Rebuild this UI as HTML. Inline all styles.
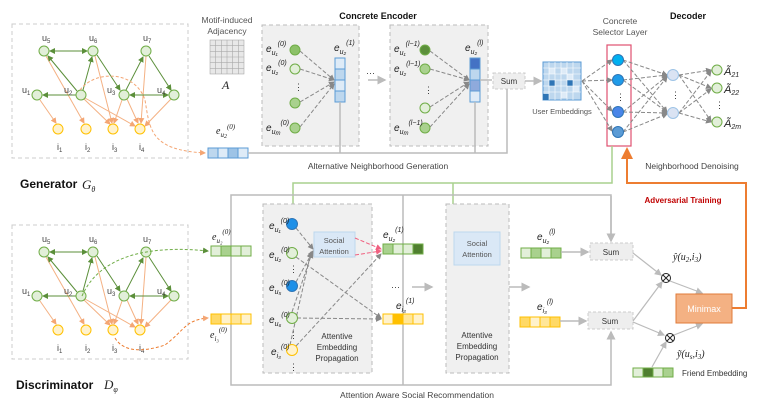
<!DOCTYPE html>
<html><head><meta charset="utf-8"><style>
html,body{margin:0;padding:0;background:#fff;width:772px;height:403px;overflow:hidden}
svg{display:block}
text{font-family:"Liberation Sans",sans-serif}
.s{font-size:9px;fill:#444}
.m{font-family:"Liberation Serif",serif;font-style:italic;fill:#222}
</style></head><body>
<svg width="772" height="403" viewBox="0 0 772 403" xmlns="http://www.w3.org/2000/svg">
<defs>
<marker id="ag" markerWidth="6" markerHeight="6" refX="5" refY="3" orient="auto"><path d="M0,0L6,3L0,6z" fill="#888"/></marker>
<marker id="agl" markerWidth="6" markerHeight="6" refX="5" refY="3" orient="auto"><path d="M0,0L6,3L0,6z" fill="#bbb"/></marker>
<marker id="agr" markerWidth="6" markerHeight="6" refX="5" refY="3" orient="auto"><path d="M0,0L6,3L0,6z" fill="#5b8f3a"/></marker>
<marker id="agrs" markerWidth="6" markerHeight="6" refX="1" refY="3" orient="auto"><path d="M6,0L0,3L6,6z" fill="#5b8f3a"/></marker>
<marker id="ao" markerWidth="6" markerHeight="6" refX="5" refY="3" orient="auto"><path d="M0,0L6,3L0,6z" fill="#f4a674"/></marker>
<marker id="ao2" markerWidth="6" markerHeight="6" refX="5" refY="3" orient="auto"><path d="M0,0L6,3L0,6z" fill="#ed7d31"/></marker>
<marker id="alg" markerWidth="6" markerHeight="6" refX="5" refY="3" orient="auto"><path d="M0,0L6,3L0,6z" fill="#8cc168"/></marker>
<marker id="ap" markerWidth="6" markerHeight="6" refX="5" refY="3" orient="auto"><path d="M0,0L6,3L0,6z" fill="#f06080"/></marker>
<g id="graph">
<rect x="12" y="24" width="176" height="134" fill="none" stroke="#ccc" stroke-dasharray="4,3"/>
<g stroke="#f4b183" stroke-width="1" marker-end="url(#ao)" fill="none">
<line x1="40" y1="100" x2="56" y2="123"/>
<line x1="46" y1="56" x2="84" y2="123"/>
<line x1="95" y1="56" x2="112" y2="123"/>
<line x1="84" y1="99" x2="110" y2="124"/>
<line x1="85" y1="98" x2="135" y2="126"/>
<line x1="122" y1="100" x2="114" y2="123"/>
<line x1="146" y1="56" x2="141" y2="123"/>
<line x1="127" y1="99" x2="138" y2="123"/>
<line x1="171" y1="99" x2="145" y2="126"/>
</g>
<g stroke="#5b8f3a" stroke-width="1" fill="none">
<line x1="50" y1="51" x2="87" y2="51" marker-end="url(#agr)" marker-start="url(#agrs)"/>
<line x1="77" y1="91" x2="48" y2="56" marker-end="url(#agr)"/>
<line x1="83" y1="90" x2="92" y2="57" marker-end="url(#agr)"/>
<line x1="97" y1="55" x2="120" y2="90" marker-end="url(#agr)"/>
<line x1="76" y1="95" x2="43" y2="95" marker-end="url(#agr)"/>
<line x1="126" y1="90" x2="143" y2="57" marker-end="url(#agr)"/>
<line x1="149" y1="56" x2="171" y2="90" marker-end="url(#agr)"/>
<line x1="130" y1="95" x2="168" y2="95" marker-end="url(#agr)" marker-start="url(#agrs)"/>
</g>
<g fill="#e2efd9" stroke="#70ad47">
<circle cx="44" cy="51" r="5"/><circle cx="93" cy="51" r="5"/><circle cx="146" cy="51" r="5"/>
<circle cx="37" cy="95" r="5"/><circle cx="81" cy="95" r="5"/><circle cx="124" cy="95" r="5"/><circle cx="174" cy="95" r="5"/>
</g>
<g fill="#fff2cc" stroke="#ffc000">
<circle cx="58" cy="129" r="5"/><circle cx="86" cy="129" r="5"/><circle cx="113" cy="129" r="5"/><circle cx="140" cy="129" r="5"/>
</g>
<g class="s" font-size="9">
<text x="42" y="41">u<tspan font-size="6" dy="2">5</tspan></text>
<text x="89" y="41">u<tspan font-size="6" dy="2">6</tspan></text>
<text x="143" y="41">u<tspan font-size="6" dy="2">7</tspan></text>
<text x="22" y="93">u<tspan font-size="6" dy="2">1</tspan></text>
<text x="64" y="93">u<tspan font-size="6" dy="2">2</tspan></text>
<text x="107" y="93">u<tspan font-size="6" dy="2">3</tspan></text>
<text x="157" y="93">u<tspan font-size="6" dy="2">4</tspan></text>
<text x="57" y="150">i<tspan font-size="6" dy="2">1</tspan></text>
<text x="85" y="150">i<tspan font-size="6" dy="2">2</tspan></text>
<text x="112" y="150">i<tspan font-size="6" dy="2">3</tspan></text>
<text x="139" y="150">i<tspan font-size="6" dy="2">4</tspan></text>
</g>
</g>
</defs>

<!-- Generator -->
<use href="#graph"/>
<path d="M80,90 C95,70 135,70 145,100 C150,130 150,150 205,153" fill="none" stroke="#f4a674" stroke-dasharray="3,2" marker-end="url(#ao)"/>
<text x="20" y="188" font-size="12" font-weight="bold" fill="#111">Generator</text>
<text x="82" y="189" font-size="13" class="m">G<tspan font-size="8" dy="3">θ</tspan></text>

<!-- Discriminator -->
<use href="#graph" y="201"/>
<path d="M82,296 C100,255 150,245 208,251" fill="none" stroke="#70ad47" stroke-dasharray="3,2" marker-end="url(#agr)"/>
<path d="M115,338 C125,355 150,350 165,345 C185,330 185,320 208,318" fill="none" stroke="#ed7d31" stroke-dasharray="3,2" marker-end="url(#ao)"/>
<text x="16" y="389" font-size="12" font-weight="bold" fill="#111">Discriminator</text>
<text x="104" y="389" font-size="13" class="m">D<tspan font-size="8" dy="3">φ</tspan></text>

<!-- generator embedding bar -->
<text x="216" y="134" font-size="10" class="m">e<tspan font-size="7" dy="3">u</tspan><tspan font-size="6" dy="1">2</tspan><tspan font-size="7" dy="-9">(0)</tspan></text>
<g stroke="#5b9bd5"><rect x="208" y="148" width="10" height="10" fill="#bdd7ee"/><rect x="218" y="148" width="10" height="10" fill="#deebf7"/><rect x="228" y="148" width="10" height="10" fill="#9dc3e6"/><rect x="238" y="148" width="10" height="10" fill="#deebf7"/></g>

<!-- Adjacency -->
<text x="227" y="23" font-size="8.5" fill="#555" text-anchor="middle">Motif-induced</text>
<text x="227" y="34" font-size="8.5" fill="#555" text-anchor="middle">Adjacency</text>
<rect x="210" y="40" width="34" height="34" fill="#e8e8e8" stroke="#999" stroke-width="0.5"/>
<g stroke="#aaa" stroke-width="0.6">
<line x1="215.7" y1="40" x2="215.7" y2="74"/><line x1="221.3" y1="40" x2="221.3" y2="74"/><line x1="227" y1="40" x2="227" y2="74"/><line x1="232.7" y1="40" x2="232.7" y2="74"/><line x1="238.3" y1="40" x2="238.3" y2="74"/>
<line x1="210" y1="45.7" x2="244" y2="45.7"/><line x1="210" y1="51.3" x2="244" y2="51.3"/><line x1="210" y1="57" x2="244" y2="57"/><line x1="210" y1="62.7" x2="244" y2="62.7"/><line x1="210" y1="68.3" x2="244" y2="68.3"/>
</g>
<text x="222" y="89" font-size="12" class="m">A</text>

<!-- Encoder -->
<text x="378" y="19" font-size="9" font-weight="bold" fill="#111" text-anchor="middle">Concrete Encoder</text>
<rect x="262" y="25" width="97" height="121" fill="#f0f0f0" stroke="#bbb" stroke-dasharray="4,3"/>
<rect x="390" y="25" width="98" height="121" fill="#f0f0f0" stroke="#bbb" stroke-dasharray="4,3"/>
<g stroke="#888" stroke-dasharray="4,2" marker-end="url(#ag)">
<line x1="300" y1="51" x2="334" y2="80"/><line x1="300" y1="69" x2="334" y2="80"/><line x1="300" y1="102" x2="334" y2="82"/><line x1="300" y1="127" x2="334" y2="84"/>
<line x1="430" y1="51" x2="469" y2="80"/><line x1="430" y1="69" x2="469" y2="80"/><line x1="430" y1="107" x2="469" y2="82"/><line x1="430" y1="127" x2="469" y2="84"/>
</g>
<g stroke="#70ad47"><circle cx="295" cy="50" r="5" fill="#8cc168"/><circle cx="295" cy="69" r="5" fill="#e2efd9"/><circle cx="295" cy="103" r="5" fill="#a9d18e"/><circle cx="295" cy="128" r="5" fill="#a9d18e"/>
<circle cx="425" cy="50" r="5" fill="#5b8f3a"/><circle cx="425" cy="69" r="5" fill="#a9d18e"/><circle cx="425" cy="108" r="5" fill="#e2efd9"/><circle cx="425" cy="128" r="5" fill="#a9d18e"/></g>
<text x="294" y="90" font-size="9" fill="#333">⋮</text><text x="424" y="93" font-size="9" fill="#333">⋮</text>
<g font-size="10" class="m">
<text x="266" y="52">e<tspan font-size="7" dy="3">u₁</tspan><tspan font-size="7" dy="-9">(0)</tspan></text>
<text x="266" y="71">e<tspan font-size="7" dy="3">u₂</tspan><tspan font-size="7" dy="-9">(0)</tspan></text>
<text x="266" y="131">e<tspan font-size="7" dy="3">u</tspan><tspan font-size="6" dy="1">m</tspan><tspan font-size="7" dy="-10">(0)</tspan></text>
<text x="334" y="51">e<tspan font-size="7" dy="3">u₂</tspan><tspan font-size="7" dy="-9">(1)</tspan></text>
<text x="394" y="52">e<tspan font-size="7" dy="3">u₁</tspan><tspan font-size="7" dy="-9">(l−1)</tspan></text>
<text x="394" y="72">e<tspan font-size="7" dy="3">u₂</tspan><tspan font-size="7" dy="-9">(l−1)</tspan></text>
<text x="394" y="131">e<tspan font-size="7" dy="3">u</tspan><tspan font-size="6" dy="1">m</tspan><tspan font-size="7" dy="-10">(l−1)</tspan></text>
<text x="465" y="51">e<tspan font-size="7" dy="3">u₂</tspan><tspan font-size="7" dy="-9">(l)</tspan></text>
</g>
<g stroke="#5b9bd5"><rect x="335" y="58" width="10" height="11" fill="#deebf7"/><rect x="335" y="69" width="10" height="11" fill="#bdd7ee"/><rect x="335" y="80" width="10" height="11" fill="#deebf7"/><rect x="335" y="91" width="10" height="11" fill="#bdd7ee"/>
<rect x="470" y="58" width="10" height="11" fill="#4472c4"/><rect x="470" y="69" width="10" height="11" fill="#bdd7ee"/><rect x="470" y="80" width="10" height="11" fill="#8faadc"/><rect x="470" y="91" width="10" height="11" fill="#deebf7"/></g>
<text x="366" y="76" font-size="9" fill="#333">···</text>
<line x1="368" y1="80" x2="385" y2="80" stroke="#bbb" stroke-width="1.5" marker-end="url(#agl)"/>
<line x1="480" y1="80" x2="492" y2="80" stroke="#bbb" stroke-width="1.5"/>
<rect x="493" y="73" width="32" height="16" fill="#eee" stroke="#ccc" stroke-dasharray="3,2"/>
<text x="509" y="84" font-size="8" fill="#333" text-anchor="middle">Sum</text>
<line x1="525" y1="81" x2="541" y2="81" stroke="#bbb" stroke-width="1.5" marker-end="url(#agl)"/>
<polyline points="248,153 507,153 507,89" fill="none" stroke="#bbb" stroke-width="1.5"/>
<line x1="340" y1="102" x2="340" y2="153" stroke="#bbb" stroke-width="1.5"/>
<line x1="475" y1="102" x2="475" y2="153" stroke="#bbb" stroke-width="1.5"/>
<text x="378" y="169" font-size="8.5" fill="#444" text-anchor="middle">Alternative Neighborhood Generation</text>

<!-- User embeddings grid -->
<rect x="543" y="62" width="38" height="38" fill="#bdd7ee" stroke="#5b9bd5"/>
<g fill="#deebf7"><rect x="549" y="68" width="6" height="6"/><rect x="561" y="68" width="6" height="6"/><rect x="567" y="74" width="6" height="6"/><rect x="549" y="80" width="6" height="6"/><rect x="573" y="86" width="6" height="6"/><rect x="561" y="92" width="6" height="6"/></g>
<g fill="#2e75b6"><rect x="549" y="80" width="6" height="6"/><rect x="567" y="80" width="6" height="6"/><rect x="543" y="94" width="6" height="6"/></g>
<g stroke="#fff" stroke-width="0.6"><line x1="549" y1="62" x2="549" y2="100"/><line x1="555" y1="62" x2="555" y2="100"/><line x1="561" y1="62" x2="561" y2="100"/><line x1="567" y1="62" x2="567" y2="100"/><line x1="573" y1="62" x2="573" y2="100"/><line x1="543" y1="68" x2="581" y2="68"/><line x1="543" y1="74" x2="581" y2="74"/><line x1="543" y1="80" x2="581" y2="80"/><line x1="543" y1="86" x2="581" y2="86"/><line x1="543" y1="92" x2="581" y2="92"/></g>
<text x="562" y="114" font-size="7.5" fill="#555" text-anchor="middle">User Embeddings</text>

<!-- Selector -->
<text x="620" y="24" font-size="8.5" fill="#555" text-anchor="middle">Concrete</text>
<text x="620" y="35" font-size="8.5" fill="#555" text-anchor="middle">Selector Layer</text>
<rect x="607" y="45" width="24" height="101" fill="#fff" stroke="#e05070" stroke-width="1.2"/>
<g stroke="#888" stroke-dasharray="4,2" marker-end="url(#ag)">
<line x1="582" y1="81" x2="612" y2="60"/><line x1="582" y1="81" x2="612" y2="80"/><line x1="582" y1="81" x2="612" y2="111"/><line x1="582" y1="81" x2="612" y2="131"/>
<line x1="623" y1="60" x2="667" y2="75"/><line x1="623" y1="80" x2="667" y2="75"/><line x1="623" y1="112" x2="667" y2="76"/><line x1="623" y1="132" x2="667" y2="77"/>
<line x1="623" y1="60" x2="667" y2="112"/><line x1="623" y1="80" x2="667" y2="112"/><line x1="623" y1="112" x2="667" y2="113"/><line x1="623" y1="132" x2="667" y2="114"/>
<line x1="679" y1="75" x2="711" y2="70"/><line x1="679" y1="75" x2="711" y2="88"/><line x1="679" y1="75" x2="711" y2="121"/>
<line x1="679" y1="113" x2="711" y2="71"/><line x1="679" y1="113" x2="711" y2="89"/><line x1="679" y1="113" x2="711" y2="122"/>
</g>
<g stroke="#2e75b6"><circle cx="618" cy="60" r="5.5" fill="#00b0f0"/><circle cx="618" cy="80" r="5.5" fill="#1f9be8"/><circle cx="618" cy="112" r="5.5" fill="#4a86e8"/><circle cx="618" cy="132" r="5.5" fill="#5b9bd5"/></g>
<text x="616" y="100" font-size="9" fill="#333">⋮</text>
<text x="688" y="19" font-size="9" font-weight="bold" fill="#111" text-anchor="middle">Decoder</text>
<g fill="#dae3f3" stroke="#9dc3e6"><circle cx="673" cy="75" r="5.5"/><circle cx="673" cy="113" r="5.5"/></g>
<text x="671" y="98" font-size="9" fill="#333">⋮</text>
<g fill="#e2efd9" stroke="#70ad47"><circle cx="717" cy="70" r="5"/><circle cx="717" cy="88" r="5"/><circle cx="717" cy="122" r="5"/></g>
<text x="715" y="108" font-size="9" fill="#333">⋮</text>
<g font-size="11" class="m"><text x="724" y="75">Ã<tspan font-size="7" dy="2">21</tspan></text><text x="724" y="93">Ã<tspan font-size="7" dy="2">22</tspan></text><text x="724" y="127">Ã<tspan font-size="7" dy="2">2m</tspan></text></g>
<text x="692" y="169" font-size="8.5" fill="#444" text-anchor="middle">Neighborhood Denoising</text>

<!-- green / orange links -->
<polyline points="612,146 612,183 293,183 293,216" fill="none" stroke="#a9d18e" stroke-width="1.5" marker-end="url(#alg)"/>
<polyline points="453,183 453,214" fill="none" stroke="#a9d18e" stroke-width="1.5" marker-end="url(#alg)"/>
<polyline points="732,308 746,308 746,183 627,183 627,149" fill="none" stroke="#ed7d31" stroke-width="2" marker-end="url(#ao2)"/>
<text x="683" y="203" font-size="8" font-weight="bold" fill="#c00000" text-anchor="middle">Adversarial Training</text>

<!-- Bottom frame -->
<polyline points="611,240 611,195 231,195 231,385 611,385 611,332" fill="none" stroke="#bbb" stroke-width="1.5" marker-end="url(#agl)" />
<line x1="611" y1="196" x2="611" y2="241" stroke="#bbb" stroke-width="1.5" marker-end="url(#agl)"/>
<line x1="403" y1="195" x2="403" y2="385" stroke="#bbb" stroke-width="1.5"/>
<text x="417" y="398" font-size="8.5" fill="#444" text-anchor="middle">Attention Aware Social Recommendation</text>

<!-- Disc input bars -->
<text x="212" y="240" font-size="10" class="m">e<tspan font-size="7" dy="3">u₂</tspan><tspan font-size="7" dy="-9">(0)</tspan></text>
<g stroke="#70ad47"><rect x="211" y="246" width="10" height="10" fill="#e2efd9"/><rect x="221" y="246" width="10" height="10" fill="#a9d18e"/><rect x="231" y="246" width="10" height="10" fill="#e2efd9"/><rect x="241" y="246" width="10" height="10" fill="#e2efd9"/></g>
<g stroke="#ffc000"><rect x="211" y="314" width="10" height="10" fill="#ffd966"/><rect x="221" y="314" width="10" height="10" fill="#fff2cc"/><rect x="231" y="314" width="10" height="10" fill="#ffe699"/><rect x="241" y="314" width="10" height="10" fill="#fff2cc"/></g>
<text x="210" y="338" font-size="10" class="m">e<tspan font-size="7" dy="3">i₃</tspan><tspan font-size="7" dy="-9">(0)</tspan></text>

<!-- Attentive boxes -->
<rect x="263" y="204" width="109" height="169" fill="#f0f0f0" stroke="#bbb" stroke-dasharray="4,3"/>
<rect x="446" y="204" width="63" height="169" fill="#f0f0f0" stroke="#bbb" stroke-dasharray="4,3"/>
<rect x="314" y="232" width="41" height="25" fill="#dae8f6" stroke="#bdd7ee"/>
<text x="334" y="243" font-size="7.5" fill="#555" text-anchor="middle">Social</text>
<text x="334" y="254" font-size="7.5" fill="#555" text-anchor="middle">Attention</text>
<rect x="454" y="232" width="46" height="33" fill="#dae8f6" stroke="#bdd7ee"/>
<text x="477" y="246" font-size="7.5" fill="#555" text-anchor="middle">Social</text>
<text x="477" y="257" font-size="7.5" fill="#555" text-anchor="middle">Attention</text>
<g font-size="8" fill="#333" text-anchor="middle"><text x="337" y="339">Attentive</text><text x="337" y="350">Embedding</text><text x="337" y="361">Propagation</text>
<text x="477" y="338">Attentive</text><text x="477" y="349">Embedding</text><text x="477" y="360">Propagation</text></g>
<g stroke="#888" stroke-dasharray="4,2" marker-end="url(#ag)">
<line x1="296" y1="228" x2="313" y2="249"/><line x1="296" y1="282" x2="313" y2="251"/><line x1="290" y1="345" x2="311" y2="252"/><line x1="296" y1="346" x2="381" y2="254"/>
<line x1="296" y1="257" x2="381" y2="318"/><line x1="297" y1="318" x2="381" y2="319"/><line x1="292" y1="312" x2="312" y2="253"/>
</g>
<g stroke="#f06080" stroke-dasharray="4,2" marker-end="url(#ap)"><line x1="355" y1="238" x2="381" y2="249"/><line x1="355" y1="255" x2="381" y2="251"/></g>
<circle cx="292" cy="224" r="5.5" fill="#1e90e8" stroke="#2e75b6"/>
<circle cx="292" cy="253" r="5.5" fill="#e2efd9" stroke="#70ad47"/>
<circle cx="292" cy="286" r="5.5" fill="#1e90e8" stroke="#2e75b6"/>
<circle cx="292" cy="318" r="5.5" fill="#e2efd9" stroke="#70ad47"/>
<circle cx="292" cy="350" r="5.5" fill="#fff2cc" stroke="#ffc000"/>
<g font-size="9" fill="#333"><text x="289" y="272">⋮</text><text x="289" y="338">⋮</text><text x="289" y="370">⋮</text></g>
<g font-size="10" class="m">
<text x="269" y="229">e<tspan font-size="7" dy="3">u₁</tspan><tspan font-size="7" dy="-9">(0)</tspan></text>
<text x="269" y="258">e<tspan font-size="7" dy="3">u₂</tspan><tspan font-size="7" dy="-9">(0)</tspan></text>
<text x="269" y="291">e<tspan font-size="7" dy="3">u₅</tspan><tspan font-size="7" dy="-9">(0)</tspan></text>
<text x="269" y="323">e<tspan font-size="7" dy="3">u₆</tspan><tspan font-size="7" dy="-9">(0)</tspan></text>
<text x="271" y="355">e<tspan font-size="7" dy="3">i₃</tspan><tspan font-size="7" dy="-9">(0)</tspan></text>
<text x="383" y="238">e<tspan font-size="7" dy="3">u₂</tspan><tspan font-size="7" dy="-9">(1)</tspan></text>
<text x="396" y="309">e<tspan font-size="7" dy="3">i₃</tspan><tspan font-size="7" dy="-9">(1)</tspan></text>
<text x="537" y="240">e<tspan font-size="7" dy="3">u₂</tspan><tspan font-size="7" dy="-9">(l)</tspan></text>
<text x="537" y="310">e<tspan font-size="7" dy="3">i₃</tspan><tspan font-size="7" dy="-9">(l)</tspan></text>
</g>
<g stroke="#70ad47"><rect x="383" y="244" width="10" height="10" fill="#a9d18e"/><rect x="393" y="244" width="10" height="10" fill="#e2efd9"/><rect x="403" y="244" width="10" height="10" fill="#e2efd9"/><rect x="413" y="244" width="10" height="10" fill="#4f7f2f"/>
<rect x="521" y="248" width="10" height="10" fill="#e2efd9"/><rect x="531" y="248" width="10" height="10" fill="#a9d18e"/><rect x="541" y="248" width="10" height="10" fill="#e2efd9"/><rect x="551" y="248" width="10" height="10" fill="#a9d18e"/></g>
<g stroke="#ffc000"><rect x="383" y="314" width="10" height="10" fill="#fff2cc"/><rect x="393" y="314" width="10" height="10" fill="#ffc000"/><rect x="403" y="314" width="10" height="10" fill="#ffe699"/><rect x="413" y="314" width="10" height="10" fill="#fff2cc"/>
<rect x="520" y="317" width="10" height="10" fill="#ffd966"/><rect x="530" y="317" width="10" height="10" fill="#fff2cc"/><rect x="540" y="317" width="10" height="10" fill="#ffe699"/><rect x="550" y="317" width="10" height="10" fill="#ffd966"/></g>
<text x="391" y="290" font-size="9" fill="#333">···</text>
<line x1="412" y1="287" x2="432" y2="287" stroke="#bbb" stroke-width="1.5" marker-end="url(#agl)"/>
<line x1="509" y1="287" x2="529" y2="287" stroke="#bbb" stroke-width="1.5" marker-end="url(#agl)"/>
<line x1="561" y1="252" x2="588" y2="252" stroke="#bbb" stroke-width="1.5" marker-end="url(#agl)"/>
<line x1="560" y1="321" x2="586" y2="321" stroke="#bbb" stroke-width="1.5" marker-end="url(#agl)"/>
<rect x="590" y="243" width="43" height="17" fill="#eee" stroke="#ccc" stroke-dasharray="3,2"/>
<text x="611" y="255" font-size="8" fill="#333" text-anchor="middle">Sum</text>
<rect x="588" y="312" width="45" height="17" fill="#eee" stroke="#ccc" stroke-dasharray="3,2"/>
<text x="610" y="324" font-size="8" fill="#333" text-anchor="middle">Sum</text>

<!-- right side -->
<g stroke="#bbb" stroke-width="1.2" marker-end="url(#agl)">
<line x1="633" y1="253" x2="661" y2="275"/><line x1="633" y1="321" x2="662" y2="282"/><line x1="633" y1="322" x2="664" y2="335"/>
<line x1="670" y1="281" x2="702" y2="293"/><line x1="674" y1="335" x2="702" y2="324"/><line x1="652" y1="367" x2="666" y2="342"/>
</g>
<circle cx="666" cy="278" r="4.5" fill="#fff" stroke="#222"/><path d="M663,275 L669,281 M669,275 L663,281" stroke="#222"/>
<circle cx="670" cy="338" r="4.5" fill="#fff" stroke="#222"/><path d="M667,335 L673,341 M673,335 L667,341" stroke="#222"/>
<rect x="676" y="294" width="56" height="29" fill="#f4b183" stroke="#e07b39"/>
<text x="704" y="312" font-size="9" fill="#fff" text-anchor="middle">Minimax</text>
<text x="673" y="260" font-size="10" class="m">ŷ(u<tspan font-size="7" dy="2">2</tspan><tspan dy="-2">,i</tspan><tspan font-size="7" dy="2">3</tspan><tspan dy="-2">)</tspan></text>
<text x="677" y="357" font-size="10" class="m">ỹ(u<tspan font-size="7" dy="2">s</tspan><tspan dy="-2">,i</tspan><tspan font-size="7" dy="2">3</tspan><tspan dy="-2">)</tspan></text>
<g stroke="#70ad47"><rect x="633" y="368" width="10" height="9" fill="#e2efd9"/><rect x="643" y="368" width="10" height="9" fill="#4f7f2f"/><rect x="653" y="368" width="10" height="9" fill="#e2efd9"/><rect x="663" y="368" width="10" height="9" fill="#a9d18e"/></g>
<text x="682" y="376" font-size="8" fill="#333">Friend Embedding</text>
</svg>
</body></html>
